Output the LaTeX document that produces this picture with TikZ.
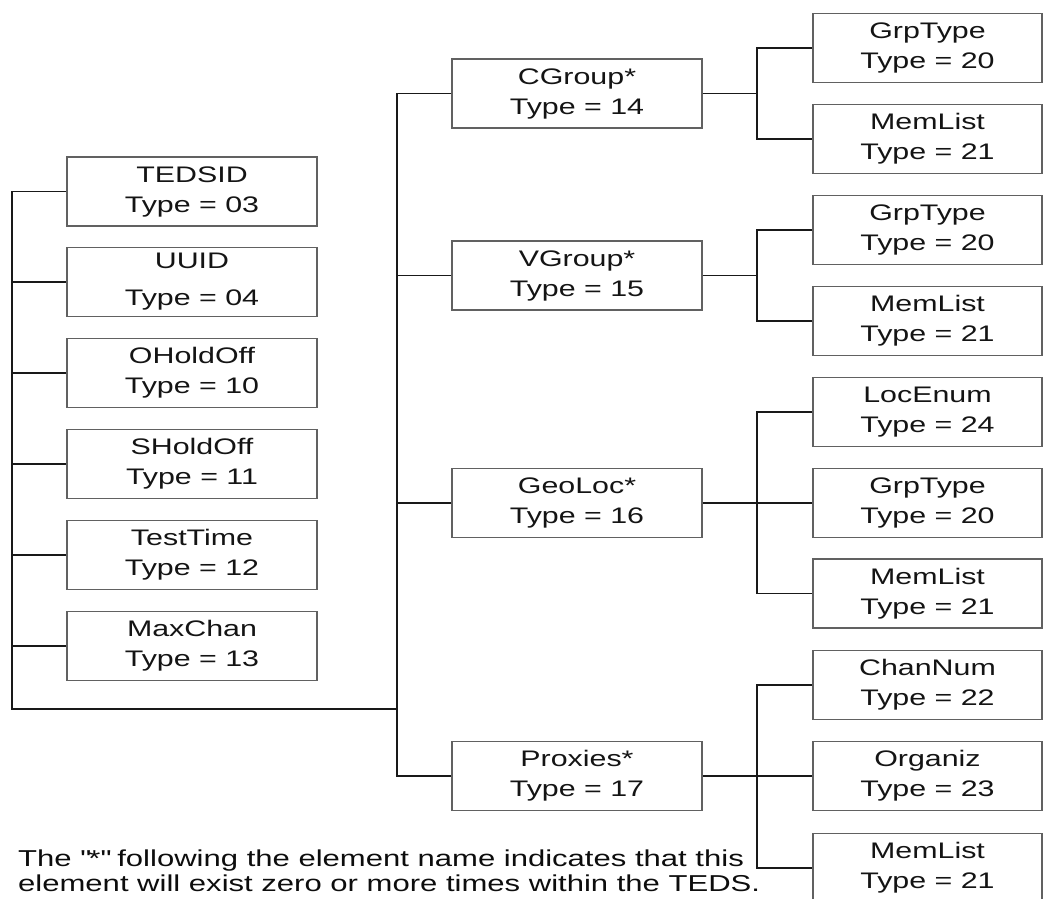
\documentclass[tikz,border=0pt]{standalone}
\usepackage{fontspec}
\setmainfont{Liberation Sans}[FakeStretch=1.35]
\begin{document}
\begin{tikzpicture}[x=1pt,y=-1pt,
  elem/.style={draw=black!62, line width=1.6pt, minimum height=69pt,
    inner sep=0pt, align=center, text=black!92,
    font=\fontsize{22.5}{30}\selectfont},
  lbox/.style={elem, minimum width=250pt},
  rbox/.style={elem, minimum width=229pt},
  link/.style={draw=black!90, line width=1.9pt},
  note/.style={anchor=north west, align=left, inner sep=0pt, text=black!95,
    font=\fontsize{23}{25}\selectfont}]
\useasboundingbox (0,0) rectangle (1052,899);
\clip (0,0) rectangle (1052,899);

% common elements
\node[lbox] (tedsid)   at (192,191.5) {TEDSID\\Type = 03};
\node[lbox] (uuid)     at (192,282)   {UUID\\[7pt]Type = 04};
\node[lbox] (oholdoff) at (192,373)   {OHoldOff\\Type = 10};
\node[lbox] (sholdoff) at (192,464)   {SHoldOff\\Type = 11};
\node[lbox] (testtime) at (192,555)   {TestTime\\Type = 12};
\node[lbox] (maxchan)  at (192,646)   {MaxChan\\Type = 13};

% repeating group elements
\node[lbox] (cgroup)  at (577,93.5)  {CGroup*\\Type = 14};
\node[lbox] (vgroup)  at (577,275.5) {VGroup*\\Type = 15};
\node[lbox] (geoloc)  at (577,503)   {GeoLoc*\\Type = 16};
\node[lbox] (proxies) at (577,776)   {Proxies*\\Type = 17};

% sub-elements
\node[rbox] (cgtype)  at (927.5,48)  {GrpType\\Type = 20};
\node[rbox] (cgmem)   at (927.5,139) {MemList\\Type = 21};
\node[rbox] (vgtype)  at (927.5,230) {GrpType\\Type = 20};
\node[rbox] (vgmem)   at (927.5,321) {MemList\\Type = 21};
\node[rbox] (glenum)  at (927.5,412) {LocEnum\\Type = 24};
\node[rbox] (gltype)  at (927.5,503) {GrpType\\Type = 20};
\node[rbox] (glmem)   at (927.5,593.5) {MemList\\Type = 21};
\node[rbox] (pxchan)  at (927.5,685) {ChanNum\\Type = 22};
\node[rbox] (pxorg)   at (927.5,776) {Organiz\\Type = 23};
\node[rbox] (pxmem)   at (927.5,868) {MemList\\Type = 21};

% trunk lines
\coordinate (lt) at (12,709);
\coordinate (mt) at (397,709);
\coordinate (rt) at (757,0);

\draw[link] (tedsid.west) -| (lt) -- (mt);
\foreach \n in {uuid,oholdoff,sholdoff,testtime,maxchan}
  \draw[link] (\n.west) -- (\n.west -| lt);

\draw[link] (cgroup.west) -| (proxies.west -| mt) -- (proxies.west);
\draw[link] (vgroup.west) -- (vgroup.west -| mt);
\draw[link] (geoloc.west) -- (geoloc.west -| mt);

% branches to sub-elements
\draw[link] (cgroup.east) -- (cgroup.east -| rt);
\draw[link] (cgtype.west) -- (cgtype.west -| rt) |- (cgmem.west);

\draw[link] (vgroup.east) -- (vgroup.east -| rt);
\draw[link] (vgtype.west) -- (vgtype.west -| rt) |- (vgmem.west);

\draw[link] (geoloc.east) -- (gltype.west);
\draw[link] (glenum.west) -- (glenum.west -| rt) |- (glmem.west);

\draw[link] (proxies.east) -- (pxorg.west |- proxies.east);
\draw[link] (pxchan.west) -- (pxchan.west -| rt) |- (pxmem.west);

\node[note] (caption) at (18,850) {The \textquotedbl*\textquotedbl{} following the element name indicates that this\\element will exist zero or more times within the TEDS.};
\end{tikzpicture}
\end{document}
